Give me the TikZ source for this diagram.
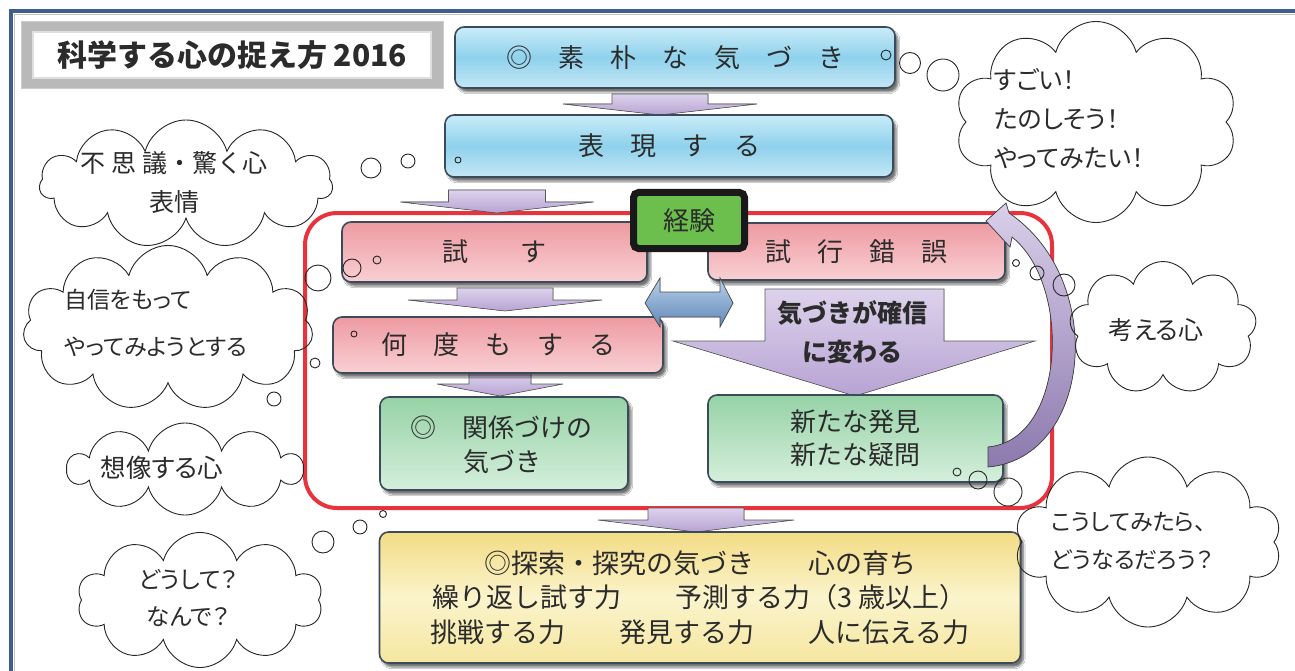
\documentclass[tikz,border=0pt]{standalone}
\usepackage{fontspec}
\usetikzlibrary{shapes.symbols,shadows.blur}
\newfontfamily\jp{Noto Sans CJK JP}
\newfontfamily\jpp[RawFeature=+palt]{Noto Sans CJK JP}
\definecolor{frameblue}{HTML}{3E5F8A}
\definecolor{redline}{HTML}{E8333D}
\definecolor{boxedge}{HTML}{3B4B5B}
\definecolor{txt}{HTML}{2B2B2B}
\definecolor{blueA}{HTML}{C9ECF8}
\definecolor{blueM}{HTML}{8FD1EC}
\definecolor{blueB}{HTML}{C4E7F5}
\definecolor{pinkA}{HTML}{EE9AA2}
\definecolor{pinkB}{HTML}{F8D0D3}
\definecolor{greenA}{HTML}{96D2A6}
\definecolor{greenB}{HTML}{D5EFDC}
\definecolor{yelA}{HTML}{F3DC85}
\definecolor{yelM}{HTML}{FBF4CC}
\definecolor{yelB}{HTML}{F5E6A0}
\definecolor{keiken}{HTML}{6DBF4D}
\definecolor{dblA}{HTML}{B8D0EA}
\definecolor{dblB}{HTML}{6187B8}
\definecolor{lavA}{HTML}{DDD2EC}
\definecolor{lavB}{HTML}{B7A3D3}
\definecolor{curA}{HTML}{D9CFEA}
\definecolor{curB}{HTML}{8D79AE}
\newcommand\bxf{\jp\fontsize{26}{34}\selectfont}
\newcommand\blockarrow[6]{%
  \filldraw[lavarrow] ({#1-#2},#3) -- ({#1+#2},#3) -- ({#1+#2},#4) -- ({#1+#5},#4)
    -- (#1,#6) -- ({#1-#5},#4) -- ({#1-#2},#4) -- cycle;}
\tikzset{
  box/.style={rounded corners=9pt, draw=boxedge, line width=1.6pt,
    blur shadow={shadow xshift=3pt, shadow yshift=-4pt, shadow blur steps=6, shadow opacity=55},
    font=\bxf, text=txt, inner sep=0pt},
  bluebox/.style={box, top color=blueA, bottom color=blueB, middle color=blueM},
  pinkbox/.style={box, top color=pinkA, bottom color=pinkB},
  greenbox/.style={box, top color=greenA, bottom color=greenB},
  yelbox/.style={box, top color=yelA, bottom color=yelB, middle color=yelM},
  lavarrow/.style={top color=lavA, bottom color=lavB, draw=black!65, line width=0.6pt},
  cloudy/.style={cloud, cloud puffs=#1, cloud ignores aspect, draw=black!85, line width=0.9pt, inner sep=0pt},
  bub/.style={circle, draw=black!85, line width=0.9pt, inner sep=0pt, minimum size=#1},
  ctext/.style={font=\jpp\fontsize{24}{38}\selectfont, text=txt, inner sep=0pt}
}
\begin{document}
\begin{tikzpicture}[x=1pt,y=-1pt]
\useasboundingbox (0,0) rectangle (1295,671);
\fill[white] (0,0) rectangle (1295,671);
% frame
\draw[line width=1.5pt, gray!45] (14.5,671) -- (14.5,14.5) -- (1295,14.5);
\draw[line width=4pt, frameblue] (11,671) -- (11,11) -- (1295,11);
% title
\node[fill=gray!55, draw=gray!40, line width=1pt, minimum width=422pt, minimum height=67pt, inner sep=0pt] (titlebg) at (232,55.5) {};
\node[fill=white, draw=gray!25, line width=1.5pt, minimum width=398pt, minimum height=46pt, inner sep=0pt,
  font=\jp\bfseries\fontsize{30}{32}\selectfont, text=txt] (title) at (232,55) {科学する心の捉え方 2016};
% red frame
\draw[redline, line width=4pt, rounded corners=32pt] (305,213) rectangle (1052,508);
% top boxes
\node[bluebox, minimum width=440pt, minimum height=61pt] (b1) at (675,57.5) {◎　素　朴　な　気　づ　き};
\blockarrow{660}{48}{94}{104}{97}{115}
\node[bluebox, minimum width=448pt, minimum height=62pt] (b2) at (669,146) {表　現　す　る};
\blockarrow{497}{48.5}{190}{202}{96.5}{213}
% pink boxes
\node[pinkbox, minimum width=305pt, minimum height=60pt] (tamesu) at (494.5,252) {試　　す};
\node[pinkbox, minimum width=297pt, minimum height=57pt] (sakugo) at (856.5,251.5) {試　行　錯　誤};
\blockarrow{500}{31}{373}{384}{63}{396}
\blockarrow{505}{48}{288}{300}{97}{311}
\node[pinkbox, minimum width=330pt, minimum height=56pt] (nando) at (498,345) {何　度　も　す　る};
% keiken
\node[fill=keiken, draw=black!90, line width=7pt, rounded corners=5pt, minimum width=111pt, minimum height=56pt,
  inner sep=0pt, font=\bxf, text=txt] (keiken) at (689,220.5) {経験};
% double arrow
\filldraw[top color=dblA, bottom color=dblB, draw=black!70, line width=0.7pt]
  (645,303) -- (660,278) -- (660,292) -- (720,292) -- (720,278) -- (733,303)
  -- (720,327) -- (720,317) -- (660,317) -- (660,327) -- cycle;
% big arrow
\filldraw[lavarrow] (765,289) -- (944,289) -- (944,341) -- (1035,341) -- (855,396) -- (673,341) -- (765,341) -- cycle;
\node[font=\jp\bfseries\fontsize{25}{39}\selectfont, text=txt, align=center, inner sep=0pt] (kakushin) at (852,332) {気づきが確信\\に変わる};
% green boxes
\node[greenbox, minimum width=248pt, minimum height=93pt] (kankei) at (504,443.5) {};
\node[font=\bxf, text=txt, align=left, anchor=west, inner sep=0pt] (kankeit) at (410,445) {◎　関係づけの\\\hspace*{53pt}気づき};
\node[greenbox, minimum width=295pt, minimum height=87pt, align=center, font=\jp\fontsize{26}{33}\selectfont] (hakken) at (855.5,438.5) {新たな発見\\新たな疑問};
% curved arrow
\filldraw[top color=curA, bottom color=curB, draw=black!75, line width=0.7pt]
  (988,467) .. controls (1092,458) and (1108,280) .. (1009,213) -- (1006,203) -- (986,221)
  -- (1010,247) -- (1012,237) .. controls (1072,285) and (1066,440) .. (988,447) -- cycle;
% bottom
\blockarrow{696}{48}{508}{520}{98}{532}
\node[yelbox, minimum width=641pt, minimum height=131pt, align=center, font=\jp\fontsize{27}{34.5}\selectfont] (yellow) at (700,597.5)
  {◎探索・探究の気づき　　心の育ち\\繰り返し試す力　　予測する力（3 歳以上）\\挑戦する力　　発見する力　　人に伝える力};
% clouds
\node[cloudy=11, minimum width=293pt, minimum height=128pt] (c1) at (186,184) {};
\node[ctext, align=center, font=\jp\fontsize{25}{39}\selectfont] (c1t) at (174,182.5) {不 思 議・驚く心\\表情};
\node[cloudy=11, minimum width=290pt, minimum height=165pt] (c2) at (168,328) {};
\node[ctext, align=left, anchor=west, font=\jpp\fontsize{23}{47}\selectfont] (c2t) at (64,323.5) {自信をもって\\やってみようとする};
\node[cloudy=10, minimum width=234pt, minimum height=92pt] (c3) at (185,469) {};
\node[ctext, font=\jpp\fontsize{25.5}{30}\selectfont] (c3t) at (162,468) {想像する心};
\node[cloudy=10, minimum width=245pt, minimum height=135pt] (c4) at (200,600) {};
\node[ctext, align=center, font=\jpp\fontsize{23.5}{37}\selectfont] (c4t) at (188,598.5) {どうして？\\なんで？};
\node[cloudy=10, minimum width=282pt, minimum height=201pt] (c5) at (1096,122) {};
\node[ctext, align=left, anchor=west, font=\jpp\fontsize{25}{39}\selectfont] (c5t) at (994,119) {すごい！\\たのしそう！\\やってみたい！};
\node[cloudy=9, minimum width=187pt, minimum height=133pt] (c6) at (1163,328) {};
\node[ctext, font=\jpp\fontsize{25}{30}\selectfont] (c6t) at (1156,330) {考える心};
\node[cloudy=10, minimum width=267pt, minimum height=170pt] (c7) at (1148,542) {};
\node[ctext, align=left, anchor=west, font=\jpp\fontsize{23}{38}\selectfont] (c7t) at (1051,541) {こうしてみたら、\\どうなるだろう？};
% bubbles
\node[bub=10pt] (p5a) at (886,55) {};
\node[bub=21pt] (p5b) at (910,63) {};
\node[bub=32pt] (p5c) at (943,75) {};
\node[bub=20pt] (p1a) at (371,168) {};
\node[bub=14pt] (p1b) at (408,161) {};
\node[bub=6pt] (p1c) at (458,160) {};
\node[bub=26pt] (p2a) at (318,278) {};
\node[bub=18pt] (p2b) at (352,268) {};
\node[bub=8pt] (p2c) at (377,260) {};
\node[bub=14pt] (p3a) at (274,399) {};
\node[bub=10pt] (p3b) at (315,363) {};
\node[bub=6pt] (p3c) at (354,334) {};
\node[bub=22pt] (p4a) at (323,542) {};
\node[bub=14pt] (p4b) at (360,527) {};
\node[bub=7pt] (p4c) at (383,514) {};
\node[bub=22pt] (p6a) at (1064,285) {};
\node[bub=14pt] (p6b) at (1037,273) {};
\node[bub=7pt] (p6c) at (1016,263) {};
\node[bub=28pt] (p7a) at (1008,492) {};
\node[bub=18pt] (p7b) at (978,480) {};
\node[bub=8pt] (p7c) at (957,472) {};
\end{tikzpicture}
\end{document}
